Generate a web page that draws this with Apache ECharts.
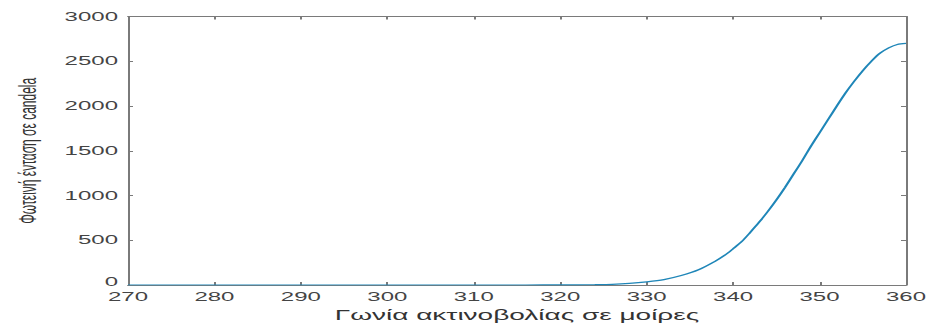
<!DOCTYPE html>
<html>
<head>
<meta charset="utf-8">
<script src="https://cdn.jsdelivr.net/npm/echarts@6/dist/echarts.min.js"></script>
<style>
  html, body { margin: 0; padding: 0; background: #ffffff; overflow: hidden; }
  #wrap { width: 932px; height: 327px; overflow: hidden; }
  #chart { width: 466px; height: 327px; transform: scaleX(2); transform-origin: 0 0; }
</style>
</head>
<body>
<div id="wrap"><div id="chart"></div></div>
<script>
// Angle of radiation (degrees) and luminous intensity (candela)
const angles = [270, 280, 290, 300, 310, 316, 320, 322, 324, 326, 328, 330, 332, 334, 336, 338,
                339, 340, 341, 342, 343, 344, 345, 346, 347, 348, 349, 350, 351, 352, 353, 354, 355,
                356, 357, 358, 359, 360];
const intensity = [0, 0, 0, 0, 0, 0, 1, 2, 4, 8, 18, 35, 60, 105, 170, 270,
                   330, 405, 485, 590, 700, 820, 950, 1090, 1240, 1390, 1550, 1700, 1850, 2000, 2145, 2275, 2395,
                   2500, 2590, 2650, 2688, 2700];
const xTitle = 'Γωνία ακτινοβολίας σε μοίρες';
const yTitle = 'Φωτεινή ένταση σε candela';

const axisColor = '#7a7a7a';
const labelColor = '#444444';
const font = '"Liberation Sans", Arial, sans-serif';

const chart = echarts.init(document.getElementById('chart'), null, { renderer: 'svg' });

const baseX = {
  type: 'value', min: 270, max: 360, interval: 10,
  axisLine: { show: true, onZero: false, lineStyle: { color: axisColor, width: 1 } },
  axisTick: { show: true, inside: true, length: 3, lineStyle: { color: axisColor } },
  splitLine: { show: false }
};
const baseY = {
  type: 'value', min: 0, max: 3000, interval: 500,
  axisLine: { show: true, onZero: false, lineStyle: { color: axisColor, width: 1 } },
  axisTick: { show: true, inside: true, length: 2.5, lineStyle: { color: axisColor } },
  splitLine: { show: false }
};

chart.setOption({
  backgroundColor: '#ffffff',
  animation: false,
  grid: { left: 55, right: 11, top: 16.5, bottom: 35, containLabel: false },
  xAxis: [
    Object.assign({}, baseX, {
      position: 'bottom',
      name: xTitle, nameLocation: 'middle', nameGap: 23,
      nameTextStyle: { fontFamily: font, fontSize: 14, color: '#333333' },
      axisLabel: { show: true, margin: 7, lineHeight: 10, fontFamily: font, fontSize: 12, color: labelColor,
                   formatter: v => String(v) }
    }),
    Object.assign({}, baseX, { position: 'top', axisLabel: { show: false } })
  ],
  yAxis: [
    Object.assign({}, baseY, {
      position: 'left',
      name: yTitle, nameLocation: 'middle', nameGap: 44,
      nameTextStyle: { fontFamily: font, fontSize: 12, color: '#333333' },
      axisLabel: { show: true, margin: 5, lineHeight: 10, fontFamily: font, fontSize: 12, color: labelColor,
                   formatter: v => (v === 0 ? '{z|0}' : String(v)),
                   rich: { z: { fontFamily: font, fontSize: 12, color: labelColor, lineHeight: 10, padding: [0, 0, 6, 0] } } }
    }),
    Object.assign({}, baseY, { position: 'right', axisLabel: { show: false } })
  ],
  series: [{
    type: 'line',
    xAxisIndex: 0, yAxisIndex: 0,
    data: angles.map((a, i) => [a, intensity[i]]),
    smooth: 0.3,
    showSymbol: false,
    lineStyle: { color: '#1f86b8', width: 1.2 },
    z: 1
  }]
});
</script>
</body>
</html>
